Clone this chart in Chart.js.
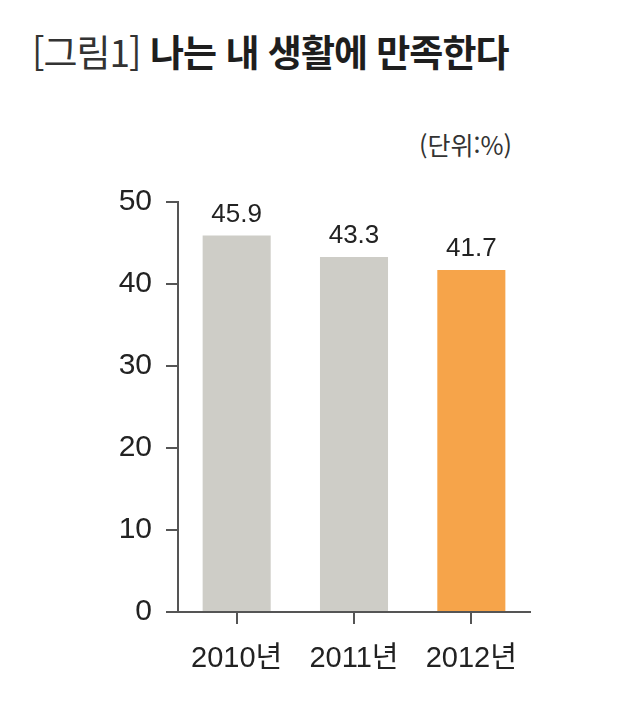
<!DOCTYPE html>
<html lang="ko">
<head>
<meta charset="utf-8">
<script src="https://cdn.jsdelivr.net/npm/chart.js@4"></script>
<style>
  body { margin: 0; background: #fff; }
  #wrap { position: relative; width: 640px; height: 723px; }
  #title {
    position: absolute; left: 32px; top: 24px;
    font-family: "Noto Sans CJK KR", sans-serif;
    font-size: 37px; font-weight: 700; color: #1e1e1e; white-space: nowrap;
    letter-spacing: -1px;
  }
  #title .fig { font-weight: 400; color: #333; }
  #unit {
    position: absolute; left: 419px; top: 126px;
    font-family: "Noto Sans CJK KR", sans-serif;
    font-size: 25px; color: #333; white-space: nowrap;
  }
  canvas { position: absolute; left: 0; top: 0; }
</style>
</head>
<body>
<div id="wrap">
  <div id="title"><span class="fig">[그림1]</span> 나는 내 생활에 만족한다</div>
  <div id="unit">(단위:%)</div>
  <canvas id="chart" width="640" height="723"></canvas>
</div>
<script>
// data
const years = ["2010년", "2011년", "2012년"];
const satisfied = [45.9, 43.3, 41.7];
const barColors = ["#cecdc7", "#cecdc7", "#f6a44a"];
const yTicks = [0, 10, 20, 30, 40, 50];

const numFont = '"Liberation Sans", "Noto Sans CJK KR", sans-serif';

// draws the value above each bar
const valueLabels = {
  id: "valueLabels",
  afterDatasetsDraw(chart) {
    const ctx = chart.ctx;
    const meta = chart.getDatasetMeta(0);
    ctx.save();
    ctx.font = '26px "Liberation Sans", sans-serif';
    ctx.fillStyle = "#222";
    ctx.textAlign = "center";
    ctx.textBaseline = "bottom";
    meta.data.forEach((bar, i) => {
      ctx.fillText(satisfied[i].toFixed(1), bar.x, bar.y - 8);
    });
    ctx.restore();
  }
};

new Chart(document.getElementById("chart"), {
  type: "bar",
  data: {
    labels: years,
    datasets: [{
      data: satisfied,
      backgroundColor: barColors,
      barPercentage: 0.58,
      categoryPercentage: 1
    }]
  },
  options: {
    responsive: false,
    animation: false,
    layout: { padding: { left: 118, right: 110, top: 202, bottom: 0 } },
    plugins: {
      legend: { display: false },
      tooltip: { enabled: false }
    },
    scales: {
      x: {
        afterFit: (s) => { s.height = 111; },
        grid: {
          offset: false,
          drawOnChartArea: false,
          tickLength: 12,
          color: "#555",
          lineWidth: 2
        },
        border: { color: "#555", width: 2 },
        ticks: {
          color: "#222",
          padding: 18,
          font: { family: numFont, size: 29 }
        }
      },
      y: {
        min: 0,
        max: 50,
        afterFit: (s) => { s.width = 60; },
        afterBuildTicks: (s) => { s.ticks = yTicks.map(v => ({ value: v })); },
        grid: {
          drawOnChartArea: false,
          tickLength: 12,
          color: "#555",
          lineWidth: 2
        },
        border: { color: "#555", width: 2 },
        ticks: {
          color: "#222",
          padding: 14,
          font: { family: numFont, size: 30 }
        }
      }
    }
  },
  plugins: [valueLabels]
});
</script>
</body>
</html>
